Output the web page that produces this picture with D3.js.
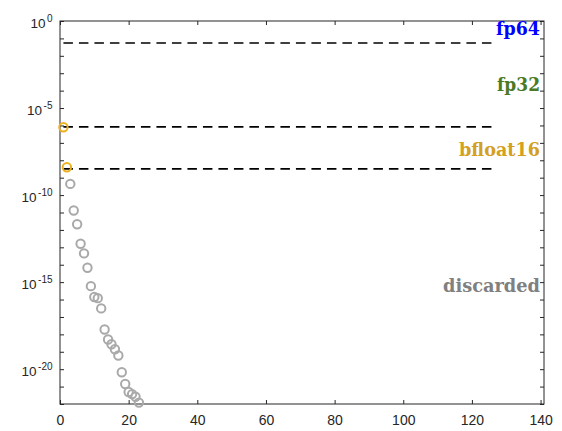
<!DOCTYPE html>
<html>
<head>
<meta charset="utf-8">
<script src="https://cdn.jsdelivr.net/npm/d3@7"></script>
<style>
  html, body { margin: 0; padding: 0; background: #fff; }
  svg { display: block; }
</style>
</head>
<body>
<svg id="chart" width="562" height="431"></svg>
<script>
// Coefficient magnitudes by index: the first two are kept, the rest discarded
const keptIndex = [1, 2];
const keptValue = [7.9e-7, 4.0e-9];
const discardedIndex = [3, 4, 5, 6, 7, 8, 9, 10, 11, 12, 13, 14, 15, 16, 17, 18, 19, 20, 21, 22, 23];
const discardedValue = [4.4e-10, 1.3e-11, 2.1e-12, 1.6e-13, 4.5e-14, 6.7e-15, 5.9e-16, 1.4e-16, 1.2e-16,
  3.1e-17, 1.9e-18, 5.1e-19, 2.7e-19, 1.4e-19, 6.1e-20, 6.7e-21, 1.4e-21, 4.9e-22, 3.7e-22, 2.6e-22, 1.2e-22];

// Precision thresholds drawn as dashed lines
const thresholdName = ["fp64", "fp32", "bfloat16"];
const thresholdValue = [5.4e-2, 8.3e-7, 3.2e-9];
const thresholdStart = [1, 1, 1];
const thresholdEnd = [127, 127, 127];

// Region labels on the right
const labelText = ["fp64", "fp32", "bfloat16", "discarded"];
const labelLevel = [1.6e-1, 1.0e-4, 1.8e-8, 2.7e-16];
const labelColor = ["#0000ff", "#4b7a25", "#d4a020", "#808080"];
const labelWidth = [44, 43, 81, 97];

// Axis ticks
const xTicks = [0, 20, 40, 60, 80, 100, 120, 140];
const yTickExponents = d3.range(0, -23, -1);
const yLabelExponents = [0, -5, -10, -15, -20];

const svg = d3.select("#chart");
const m = { left: 60, top: 21, right: 18, bottom: 27 };
const W = 562 - m.left - m.right;
const H = 431 - m.top - m.bottom;

const x = d3.scaleLinear().domain([0, 141]).range([0, W]);
const y = d3.scaleLog().domain([1e-22, 1]).range([H, 0]);

const g = svg.append("g").attr("transform", `translate(${m.left},${m.top})`);
const axisColor = "#262626";
const tickFont = "'Liberation Sans', Arial, Helvetica, sans-serif";

// Bottom axis with inward ticks
const xAxis = d3.axisBottom(x).tickValues(xTicks).tickSize(-4).tickPadding(11).tickFormat(d3.format("d"));
const gx = g.append("g").attr("transform", `translate(0,${H})`).call(xAxis);
gx.select(".domain").remove();
gx.selectAll("line").attr("stroke", axisColor);
gx.selectAll("text").attr("fill", axisColor).style("font-family", tickFont).style("font-size", "14px");

// Top ticks
const gxt = g.append("g").call(d3.axisTop(x).tickValues(xTicks).tickSize(-4).tickFormat(""));
gxt.select(".domain").remove();
gxt.selectAll("line").attr("stroke", axisColor);

// Left and right decade ticks
const decades = yTickExponents.map(e => Math.pow(10, e));
const gyl = g.append("g").call(d3.axisLeft(y).tickValues(decades).tickSize(-4).tickFormat(""));
gyl.select(".domain").remove();
gyl.selectAll("line").attr("stroke", axisColor);
const gyr = g.append("g").attr("transform", `translate(${W},0)`)
  .call(d3.axisRight(y).tickValues(decades).tickSize(-4).tickFormat(""));
gyr.select(".domain").remove();
gyr.selectAll("line").attr("stroke", axisColor);

// Power-of-ten labels
const yl = g.append("g").selectAll("text").data(yLabelExponents).join("text")
  .attr("x", -7.5)
  .attr("y", d => y(Math.pow(10, d)) + 7)
  .attr("text-anchor", "end")
  .attr("fill", axisColor)
  .style("font-family", tickFont)
  .style("font-size", "13.5px");
yl.append("tspan").text("10");
yl.append("tspan").attr("dy", -6.5).attr("dx", 1.5).style("font-size", "10px").text(d => String(d));

// Box
g.append("rect").attr("width", W).attr("height", H)
  .attr("fill", "none").attr("stroke", axisColor).attr("stroke-width", 1);

// Threshold lines
g.append("g").selectAll("line").data(thresholdValue).join("line")
  .attr("x1", (d, i) => x(thresholdStart[i]))
  .attr("x2", (d, i) => x(thresholdEnd[i]))
  .attr("y1", d => y(d)).attr("y2", d => y(d))
  .attr("stroke", "#000").attr("stroke-width", 1.6)
  .attr("stroke-dasharray", "9.5,6");

// Discarded coefficients
g.append("g").selectAll("circle").data(discardedValue).join("circle")
  .attr("cx", (d, i) => x(discardedIndex[i]))
  .attr("cy", d => y(d))
  .attr("r", 4.2)
  .attr("fill", "none").attr("stroke", "#a9a9a9").attr("stroke-width", 2);

// Kept coefficients
g.append("g").selectAll("circle").data(keptValue).join("circle")
  .attr("cx", (d, i) => x(keptIndex[i]))
  .attr("cy", d => y(d))
  .attr("r", 4.2)
  .attr("fill", "none").attr("stroke", "#edb120").attr("stroke-width", 2);

// Region labels
g.append("g").selectAll("text").data(labelText).join("text")
  .attr("x", W - 4)
  .attr("y", (d, i) => y(labelLevel[i]))
  .attr("text-anchor", "end")
  .attr("fill", (d, i) => labelColor[i])
  .attr("textLength", (d, i) => labelWidth[i])
  .attr("lengthAdjust", "spacingAndGlyphs")
  .style("font-family", "'DejaVu Serif', 'Liberation Serif', serif")
  .style("font-weight", "bold")
  .style("font-size", "18.5px")
  .text(d => d);
</script>
</body>
</html>
